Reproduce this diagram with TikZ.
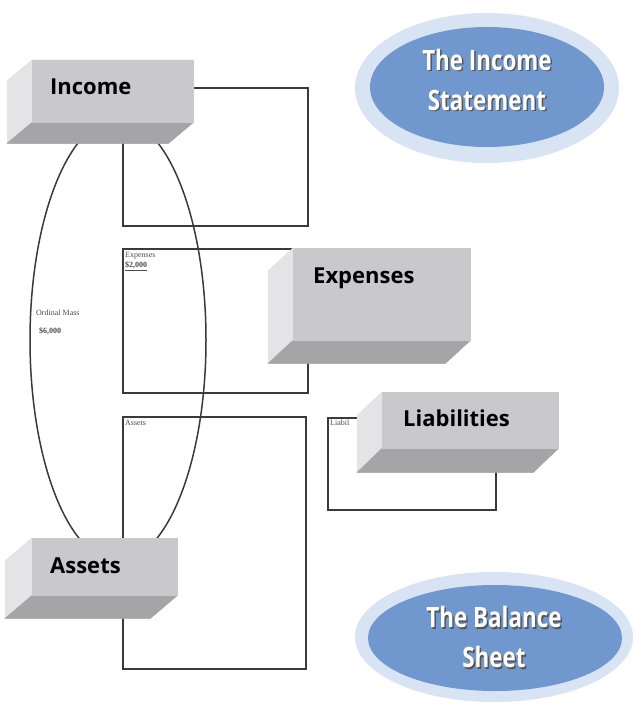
\documentclass[tikz,border=0pt]{standalone}
\usepackage{fontspec}
\setmainfont{Open Sans}
\newfontfamily\ovalfont[FakeStretch=0.8]{Open Sans}
\newfontfamily\tinyserif{Liberation Serif}
\usetikzlibrary{calc,shapes.geometric}
\definecolor{frontc}{HTML}{C9C9CB}
\definecolor{leftc}{HTML}{E4E4E6}
\definecolor{bottomc}{HTML}{A5A5A7}
\definecolor{linec}{HTML}{3A3A3A}
\definecolor{ovalblue}{HTML}{7098CF}
\definecolor{ovalpale}{HTML}{D8E3F3}
\definecolor{shadowc}{HTML}{555555}
\tikzset{
  front/.style={draw=none, inner sep=0pt, anchor=north west},
  leftface/.style={fill=leftc, draw=leftc, line width=0.4pt},
  bottomface/.style={fill=bottomc, draw=bottomc, line width=0.4pt},
  frontface/.style={fill=frontc, draw=frontc, line width=0.4pt},
  blocktext/.style={font=\bfseries\fontsize{22}{26}\selectfont, text=black, inner sep=0pt},
  framebox/.style={draw=linec, line width=1.6pt, inner sep=0pt, anchor=north west},
  tinytext/.style={font=\tinyserif\fontsize{8}{9}\selectfont, text=black!70, inner sep=0pt, anchor=north west},
  ovaltext/.style={font=\ovalfont\bfseries\fontsize{28}{40}\selectfont, align=center, inner sep=0pt},
}
\newcommand\blockfaces[3]{%
  \fill[bottomc] (#1.north west) -- ++(#2,#3) -- ($(#1.south west)+(#2,#3)$) -- ($(#1.south east)+(#2,#3)$) -- (#1.south east) -- (#1.north east) -- cycle;
  \filldraw[leftface] (#1.north west) -- ++(#2,#3) -- ($(#1.south west)+(#2,#3)$) -- (#1.south west) -- cycle;
  \filldraw[bottomface] (#1.south west) -- (#1.south east) -- ++(#2,#3) -- ($(#1.south west)+(#2,#3)$) -- cycle;
  \filldraw[frontface] (#1.north west) rectangle (#1.south east);}
\begin{document}
\begin{tikzpicture}[x=1pt,y=-1pt]
\useasboundingbox[fill=white] (0,0) rectangle (640,711);

% big ellipse
\node[ellipse, draw=linec, line width=1.5pt, minimum width=176pt, minimum height=442pt, inner sep=0pt] (loop) at (118,340) {};

% frames
\node[framebox, minimum width=185pt, minimum height=138pt] (incomebox) at (122,87) {};
\node[framebox, minimum width=185pt, minimum height=144pt] (expensebox) at (122,248) {};
\node[framebox, minimum width=183pt, minimum height=252pt] (assetbox) at (122,416) {};
\node[framebox, minimum width=168pt, minimum height=92pt] (liabbox) at (327,417) {};

% tiny texts
\node[tinytext] (exptiny) at (125,252) {Expenses};
\node[tinytext, font=\tinyserif\bfseries\fontsize{8}{9}\selectfont] (exptinyval) at (125,262) {\underline{\$2,000}};
\node[tinytext] (asstiny) at (125,420) {Assets};
\node[tinytext] (liabtiny) at (330,420) {Liabil};
\node[tinytext] (owntiny) at (36,310) {Ordinal Mass};
\node[tinytext, font=\tinyserif\bfseries\fontsize{8}{9}\selectfont] (owntinyval) at (39,328) {\$6,000};

% blocks
\node[front, minimum width=161pt, minimum height=62pt] (incomeF) at (32,60) {};
\blockfaces{incomeF}{-25}{21}
\node[blocktext, anchor=west] (incomeT) at (50,87) {Income};

\node[front, minimum width=177pt, minimum height=92pt] (expenseF) at (293,248) {};
\blockfaces{expenseF}{-25}{23}
\node[blocktext, anchor=west] (expenseT) at (313,278) {Expenses};

\node[front, minimum width=176pt, minimum height=56pt] (liabF) at (382,392) {};
\blockfaces{liabF}{-25}{24}
\node[blocktext, anchor=west] (liabT) at (403,418) {Liabilities};

\node[front, minimum width=145pt, minimum height=57pt] (assetF) at (32,538) {};
\blockfaces{assetF}{-27}{23}
\node[blocktext, anchor=west] (assetT) at (50,566) {Assets};

% blue ovals
\node[ellipse, fill=ovalpale, minimum width=264pt, minimum height=150pt, inner sep=0pt] (isouter) at (487,88) {};
\node[ellipse, fill=ovalblue, minimum width=234pt, minimum height=120pt, inner sep=0pt] (isinner) at (487,87) {};
\node[ovaltext, text=shadowc] (isshadow) at (488.5,81.5) {The Income\\Statement};
\node[ovaltext, text=white] (istext) at (487,80) {The Income\\Statement};

\node[ellipse, fill=ovalpale, minimum width=278pt, minimum height=130pt, inner sep=0pt] (bsouter) at (494,637) {};
\node[ellipse, fill=ovalblue, minimum width=254pt, minimum height=106pt, inner sep=0pt] (bsinner) at (495,638) {};
\node[ovaltext, text=shadowc] (bsshadow) at (495.5,638.5) {The Balance\\Sheet};
\node[ovaltext, text=white] (bstext) at (494,637) {The Balance\\Sheet};
\end{tikzpicture}
\end{document}
